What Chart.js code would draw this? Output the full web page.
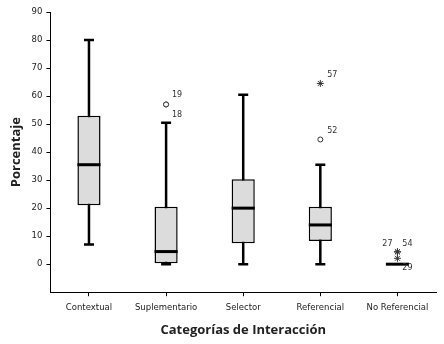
<!DOCTYPE html>
<html lang="es">
<head>
<meta charset="UTF-8">
<title>Categorías de Interacción</title>
<script src="https://cdn.jsdelivr.net/npm/chart.js"></script>
<style>
  html, body { margin: 0; padding: 0; background: #fff; }
  #wrap { width: 444px; height: 344px; position: relative; }
</style>
</head>
<body>
<div id="wrap"><canvas id="chart"></canvas></div>
<script>
// datos del diagrama de caja
const categorias = ['Contextual', 'Suplementario', 'Selector', 'Referencial', 'No Referencial'];
const minimos  = [7, 0, 0, 0, 0];
const q1       = [21, 0.3, 7.5, 8.3, 0];
const medianas = [35.5, 4.5, 20, 14, 0];
const q3       = [53, 20.5, 30.3, 20.5, 0];
const maximos  = [80, 50.5, 60.5, 35.5, 0];

// valores atípicos
const atipCategoria = ['Suplementario', 'Suplementario', 'Referencial', 'Referencial', 'No Referencial', 'No Referencial', 'No Referencial'];
const atipValor     = [57, 57, 44.5, 64.5, 4.4, 4.4, 2.1];
const atipTipo      = ['circle', 'circle', 'circle', 'star', 'star', 'star', 'star'];
const atipEtiqueta  = ['19', '18', '52', '57', '27', '54', '29'];

const yTicks = [0, 10, 20, 30, 40, 50, 60, 70, 80, 90];

// desplazamiento de las etiquetas respecto al punto
const offsets = {
  '19': [11, -10], '18': [11, 10], '52': [12, -9], '57': [12, -9],
  '27': [-10, -8], '54': [10, -8], '29': [10, 10]
};

const boxPlugin = {
  id: 'boxes',
  beforeDatasetsDraw(chart) {
    const { ctx, scales: { x, y } } = chart;
    ctx.save();
    ctx.strokeStyle = '#000';
    ctx.lineWidth = 2.5;
    categorias.forEach((c, i) => {
      const px = x.getPixelForValue(i);
      if (maximos[i] === minimos[i]) return;
      ctx.beginPath();
      ctx.moveTo(px, y.getPixelForValue(minimos[i]));
      ctx.lineTo(px, y.getPixelForValue(maximos[i]));
      // tapas
      [minimos[i], maximos[i]].forEach(v => {
        const py = y.getPixelForValue(v);
        ctx.moveTo(px - 5, py);
        ctx.lineTo(px + 5, py);
      });
      ctx.stroke();
    });
    ctx.restore();
  },
  afterDatasetsDraw(chart) {
    const { ctx, scales: { x, y } } = chart;
    ctx.save();
    ctx.strokeStyle = '#000';
    ctx.lineWidth = 3;
    const bar = chart.getDatasetMeta(0).data;
    categorias.forEach((c, i) => {
      const px = x.getPixelForValue(i);
      const half = bar[i].width / 2;
      const py = y.getPixelForValue(medianas[i]);
      ctx.beginPath();
      ctx.moveTo(px - half, py);
      ctx.lineTo(px + half, py);
      ctx.stroke();
    });
    // etiquetas de atípicos
    ctx.fillStyle = '#333';
    ctx.font = '8px "DejaVu Sans", Verdana, sans-serif';
    ctx.textAlign = 'center';
    ctx.textBaseline = 'middle';
    const pts = chart.getDatasetMeta(1).data;
    pts.forEach((p, k) => {
      const o = offsets[atipEtiqueta[k]] || [10, -8];
      ctx.fillText(atipEtiqueta[k], p.x + o[0], p.y + o[1]);
    });
    ctx.restore();
  }
};

new Chart(document.getElementById('chart'), {
  type: 'bar',
  data: {
    labels: categorias,
    datasets: [{
      data: categorias.map((c, i) => [q1[i], q3[i]]),
      backgroundColor: '#dcdcdc',
      borderColor: '#000',
      borderWidth: 1.5,
      borderSkipped: false,
      barPercentage: 0.3,
      categoryPercentage: 1
    }, {
      type: 'line',
      showLine: false,
      data: atipCategoria.map((c, k) => ({ x: c, y: atipValor[k] })),
      pointStyle: atipTipo,
      pointRadius: atipTipo.map(t => t === 'star' ? 3.5 : 2.5),
      pointBorderColor: '#333',
      pointBorderWidth: 1,
      pointBackgroundColor: '#fff'
    }]
  },
  options: {
    responsive: true,
    maintainAspectRatio: false,
    animation: false,
    layout: { padding: { top: 12, right: 8, left: 4, bottom: 2 } },
    plugins: { legend: { display: false }, tooltip: { enabled: false } },
    scales: {
      x: {
        grid: { offset: false, drawOnChartArea: false, drawTicks: true, tickLength: 4, color: '#000' },
        border: { display: true, color: '#000', width: 1 },
        ticks: { color: '#222', padding: 6, font: { family: '"DejaVu Sans", Verdana, sans-serif', size: 8.5 } },
        title: { display: true, text: 'Categorías de Interacción', color: '#222', padding: { top: 4 },
                 font: { family: '"Open Sans", sans-serif', size: 13, weight: 'bold' } }
      },
      y: {
        min: -10, max: 90,
        afterBuildTicks: s => { s.ticks = [-10].concat(yTicks).map(v => ({ value: v })); },
        grid: { drawOnChartArea: false, drawTicks: true, tickLength: 4,
                color: c => c.tick && c.tick.value === -10 ? 'rgba(0,0,0,0)' : '#000' },
        border: { display: true, color: '#000', width: 1 },
        ticks: { color: '#222', padding: 4, font: { family: '"DejaVu Sans", Verdana, sans-serif', size: 8.5 },
                 callback: v => v === -10 ? '' : v },
        title: { display: true, text: 'Porcentaje', color: '#222', padding: { bottom: 4 },
                 font: { family: '"Open Sans", sans-serif', size: 13, weight: 'bold' } }
      }
    }
  },
  plugins: [boxPlugin]
});
</script>
</body>
</html>
